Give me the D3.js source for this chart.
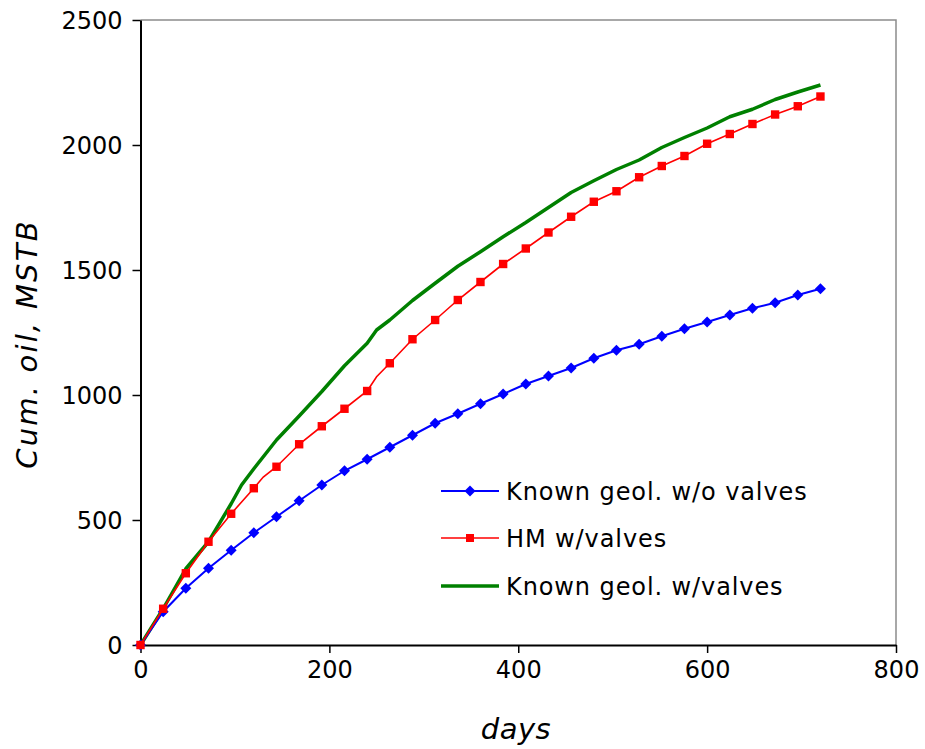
<!DOCTYPE html>
<html>
<head>
<meta charset="utf-8">
<script src="https://cdn.jsdelivr.net/npm/d3@7"></script>
<style>
  body { margin: 0; background: #fff; }
  text { font-family: "DejaVu Sans", Verdana, sans-serif; }
</style>
</head>
<body>
<div id="chart"></div>
<script>
// data (days, cumulative oil MSTB)
var stepDays = [0, 24, 48, 72, 96, 120, 144, 168, 192, 216, 240, 264, 288, 312, 336, 360,
  384, 408, 432, 456, 480, 504, 528, 552, 576, 600, 624, 648, 672, 696, 720];
var knownNoValves = [0, 133, 227, 307, 379, 449, 513, 577, 640, 697, 743, 791, 839, 887, 925, 965,
  1004, 1044, 1076, 1108, 1147, 1179, 1203, 1235, 1265, 1292, 1320, 1347, 1369, 1400, 1425];
var hmValves = [0, 145, 287, 413, 525, 627, 713, 803, 875, 945, 1016, 1127, 1223, 1300, 1380, 1452,
  1524, 1586, 1650, 1713, 1773, 1815, 1871, 1916, 1956, 2005, 2044, 2084, 2122, 2155, 2194];
// extra (unmarked) points on the HM line
var hmExtraDays = [130, 243, 250];
var hmExtraVals = [672, 1033, 1073];
var knownValvesDays = [0, 24, 48, 72, 96, 107, 120, 144, 168, 192, 216, 240, 250, 264, 288, 312,
  336, 360, 384, 408, 432, 456, 480, 504, 528, 552, 576, 600, 624, 648, 672, 696, 720];
var knownValves = [0, 145, 305, 413, 565, 640, 705, 820, 916, 1014, 1117, 1207, 1260, 1300, 1378, 1447,
  1515, 1573, 1633, 1690, 1750, 1810, 1857, 1902, 1940, 1990, 2030, 2068, 2113, 2143, 2182, 2212, 2240];

var xTicks = [0, 200, 400, 600, 800];
var yTicks = [0, 500, 1000, 1500, 2000, 2500];
var legendNames = ["Known geol. w/o valves", "HM w/valves", "Known geol. w/valves"];

var width = 925, height = 749;
var margin = { top: 20, right: 29, bottom: 104, left: 140.5 };
var w = width - margin.left - margin.right,
  h = height - margin.top - margin.bottom;

var svg = d3.select("#chart").append("svg")
  .attr("width", width)
  .attr("height", height);

var g = svg.append("g")
  .attr("transform", "translate(" + margin.left + "," + margin.top + ")");

var x = d3.scaleLinear().domain([0, 800]).range([0, w]);
var y = d3.scaleLinear().domain([0, 2500]).range([h, 0]);

// plot area border (top / right in gray)
g.append("path")
  .attr("d", "M0,0H" + w + "V" + h)
  .attr("fill", "none")
  .attr("stroke", "#8c8c8c")
  .attr("stroke-width", 1.5);

var xAxis = g.append("g")
  .attr("transform", "translate(0," + h + ")")
  .call(d3.axisBottom(x).tickValues(xTicks).tickFormat(d3.format("d"))
    .tickSize(8).tickPadding(8).tickSizeOuter(0));
var yAxis = g.append("g")
  .call(d3.axisLeft(y).tickValues(yTicks).tickFormat(d3.format("d"))
    .tickSize(8).tickPadding(10).tickSizeOuter(0));

[xAxis, yAxis].forEach(function (a) {
  a.select(".domain").attr("stroke", "#000").attr("stroke-width", 2);
  a.selectAll(".tick line").attr("stroke", "#000").attr("stroke-width", 1.5);
  a.selectAll(".tick text")
    .attr("fill", "#000")
    .style("font-size", "24px")
    .style("font-family", "'DejaVu Sans', Verdana, sans-serif");
});
yAxis.selectAll(".tick text").attr("dy", "0.36em");

// axis titles
svg.append("text")
  .attr("x", 516)
  .attr("y", 739)
  .attr("text-anchor", "middle")
  .style("font-size", "29px")
  .style("font-style", "italic")
  .style("letter-spacing", "0.5px")
  .text("days");

svg.append("text")
  .attr("transform", "translate(37,344) rotate(-90)")
  .attr("text-anchor", "middle")
  .style("font-size", "29px")
  .style("font-style", "italic")
  .style("letter-spacing", "2.2px")
  .text("Cum. oil, MSTB");

var line = d3.line()
  .x(function (d) { return x(d[0]); })
  .y(function (d) { return y(d[1]); });

var greenPts = knownValvesDays.map(function (d, i) { return [d, knownValves[i]]; });
var bluePts = stepDays.map(function (d, i) { return [d, knownNoValves[i]]; });
var redPts = stepDays.map(function (d, i) { return [d, hmValves[i]]; });
var redLinePts = redPts.concat(hmExtraDays.map(function (d, i) { return [d, hmExtraVals[i]]; }))
  .sort(function (a, b) { return a[0] - b[0]; });

g.append("path")
  .datum(greenPts)
  .attr("d", line)
  .attr("fill", "none")
  .attr("stroke", "#008000")
  .attr("stroke-width", 3.5)
  .attr("stroke-linejoin", "round");

g.append("path")
  .datum(bluePts)
  .attr("d", line)
  .attr("fill", "none")
  .attr("stroke", "#0000ff")
  .attr("stroke-width", 2);

var diamond = "M0,-5.5L5.5,0L0,5.5L-5.5,0Z";
g.selectAll(".blueMark")
  .data(bluePts)
  .enter()
  .append("path")
  .attr("class", "blueMark")
  .attr("d", diamond)
  .attr("transform", function (d) { return "translate(" + x(d[0]) + "," + y(d[1]) + ")"; })
  .attr("fill", "#0000ff");

g.append("path")
  .datum(redLinePts)
  .attr("d", line)
  .attr("fill", "none")
  .attr("stroke", "#ff0000")
  .attr("stroke-width", 1.6);

g.selectAll(".redMark")
  .data(redPts)
  .enter()
  .append("rect")
  .attr("class", "redMark")
  .attr("x", function (d) { return x(d[0]) - 4.2; })
  .attr("y", function (d) { return y(d[1]) - 4.2; })
  .attr("width", 8.4)
  .attr("height", 8.4)
  .attr("fill", "#ff0000");

// legend
var legendY = [491, 538, 586];
var legendColors = ["#0000ff", "#ff0000", "#008000"];
var legendWidths = [2, 1.6, 3.5];
var lg = svg.selectAll(".legend")
  .data(legendNames)
  .enter()
  .append("g")
  .attr("class", "legend")
  .attr("transform", function (d, i) { return "translate(441," + legendY[i] + ")"; });

lg.append("line")
  .attr("x1", 0).attr("x2", 58)
  .attr("stroke", function (d, i) { return legendColors[i]; })
  .attr("stroke-width", function (d, i) { return legendWidths[i]; });

lg.filter(function (d, i) { return i === 0; })
  .append("path")
  .attr("d", diamond)
  .attr("transform", "translate(29,0)")
  .attr("fill", "#0000ff");

lg.filter(function (d, i) { return i === 1; })
  .append("rect")
  .attr("x", 25).attr("y", -4).attr("width", 8).attr("height", 8)
  .attr("fill", "#ff0000");

lg.append("text")
  .attr("x", 65)
  .attr("y", 8.5)
  .style("font-size", "24px")
  .style("letter-spacing", "0.9px")
  .text(function (d) { return d; });
</script>
</body>
</html>
